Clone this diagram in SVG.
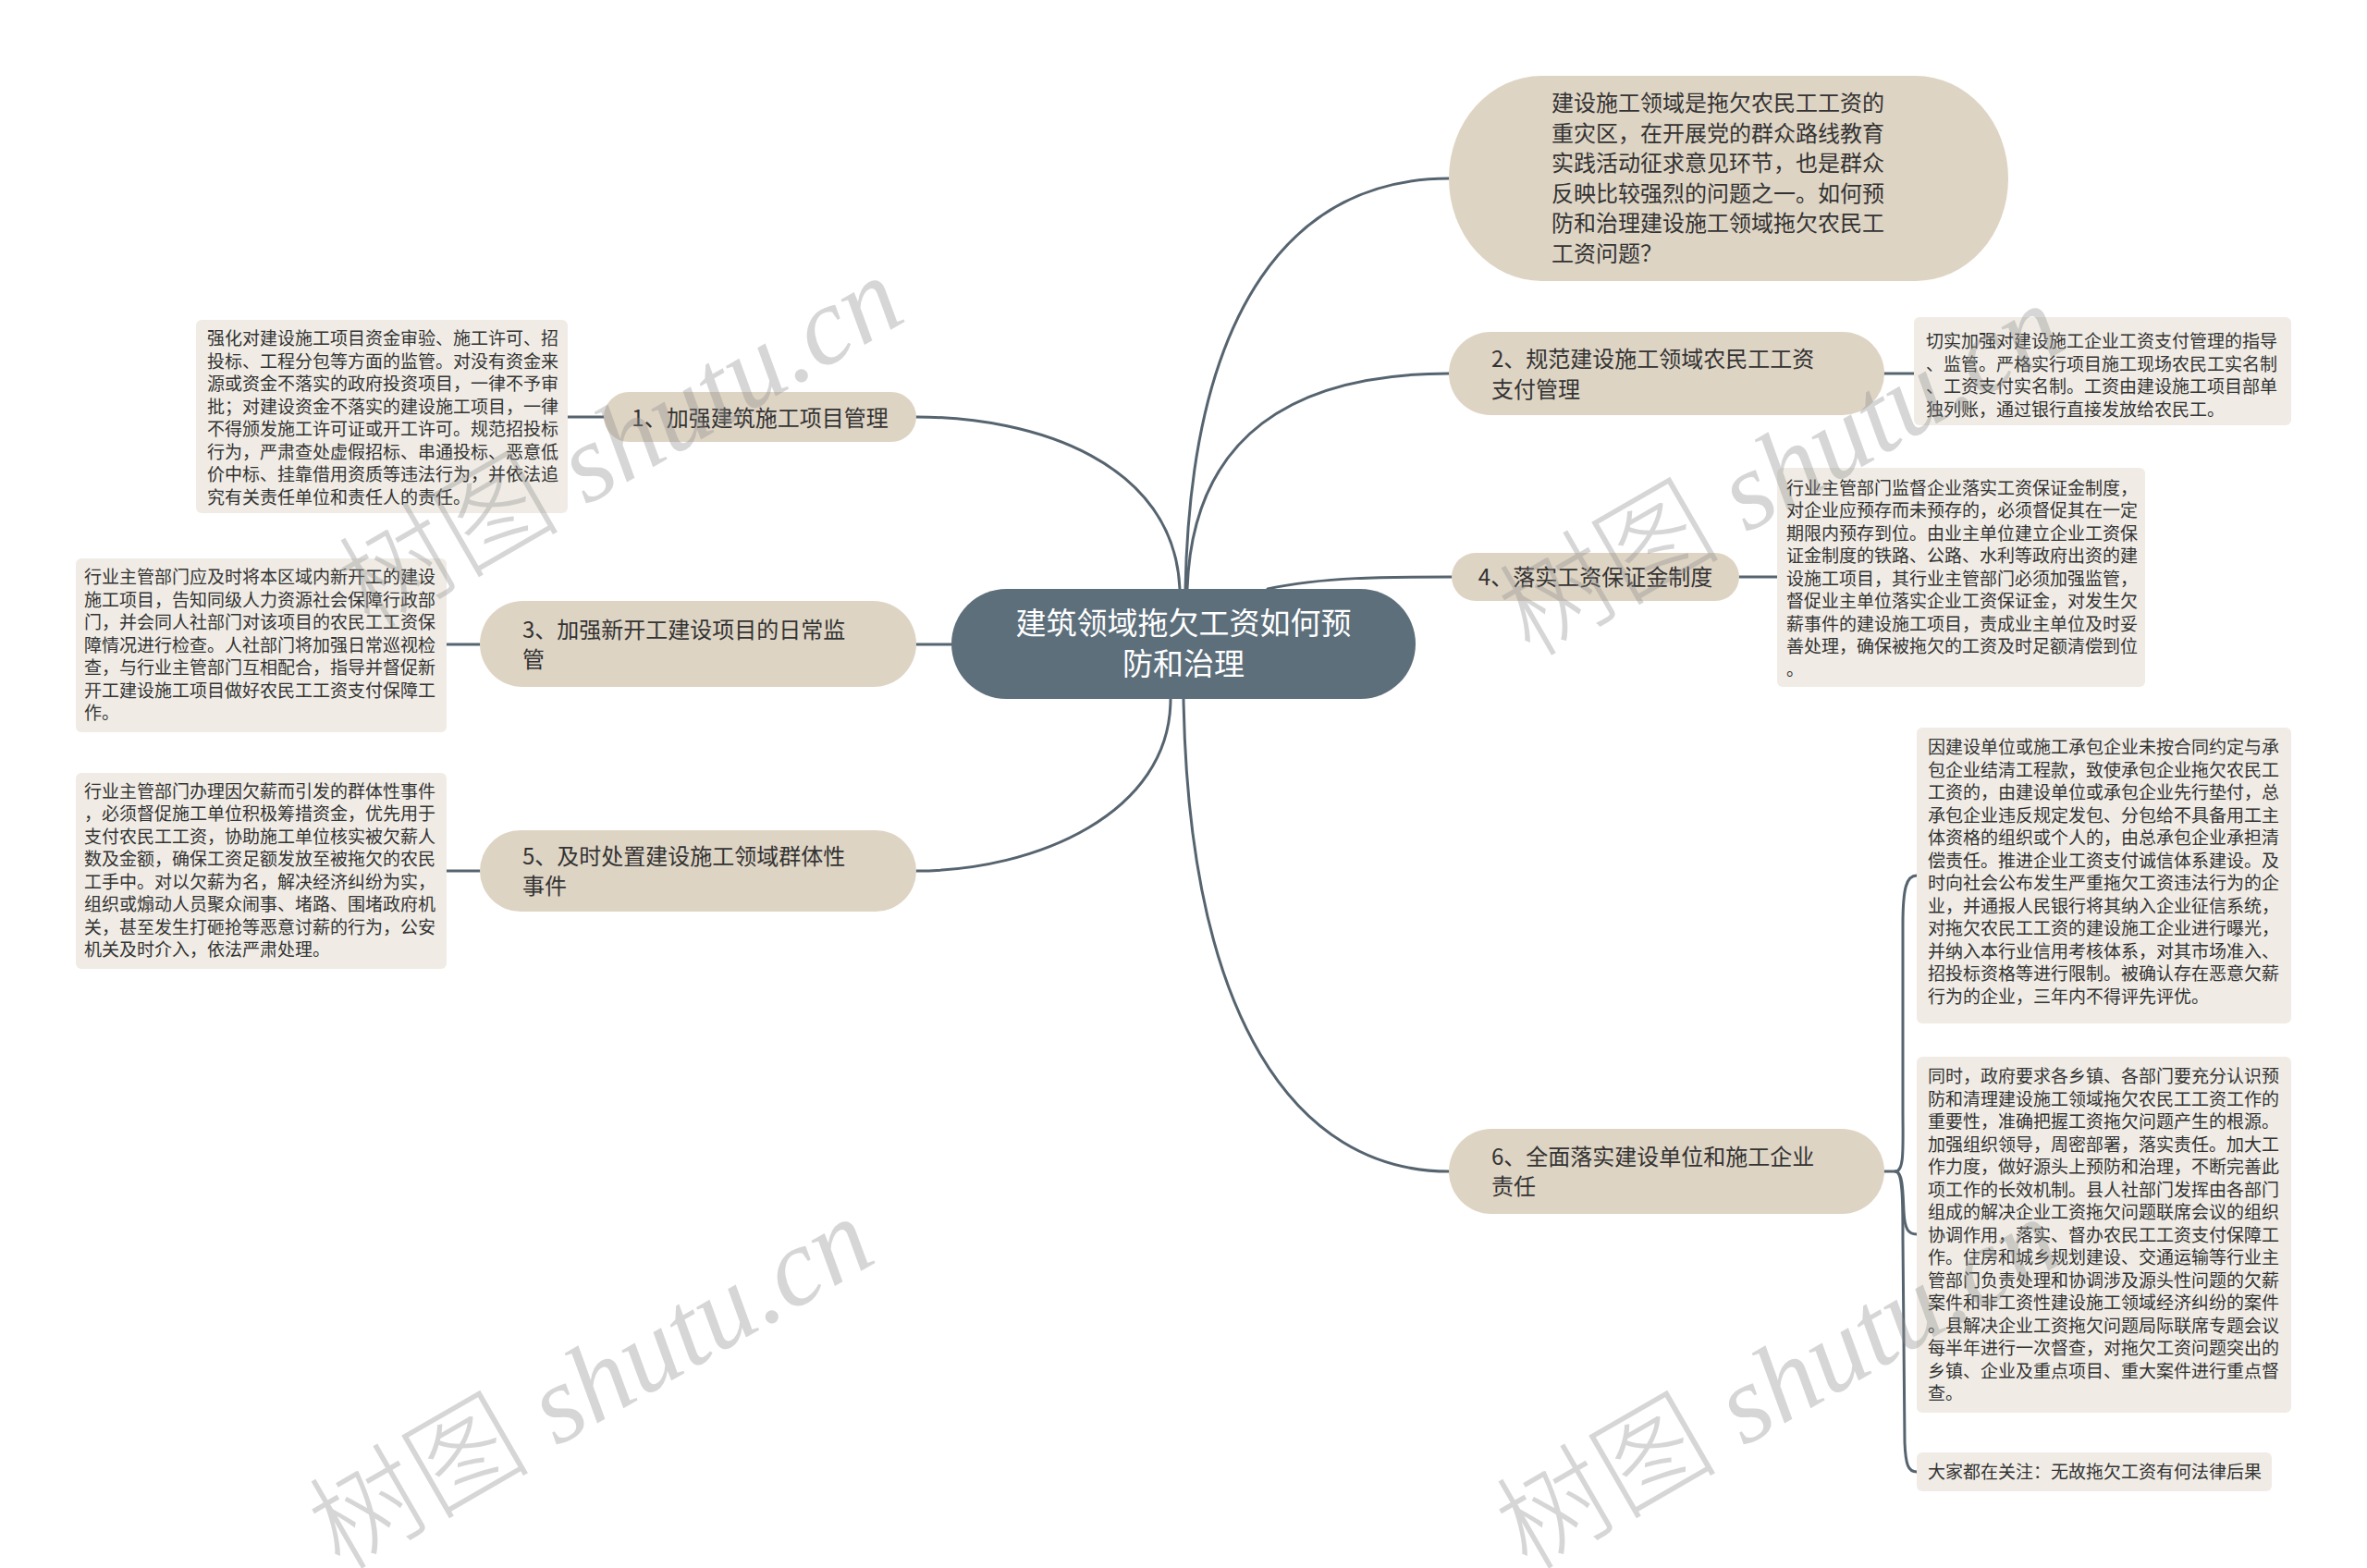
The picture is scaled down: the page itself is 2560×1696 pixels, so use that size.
<svg xmlns="http://www.w3.org/2000/svg" width="2560" height="1696" viewBox="0 0 2560 1696">
<style>
.bg{fill:#ffffff}
.node{fill:#ded4c4}
.detail{fill:#f0ece5}
.root{fill:#5d6f7b}
.line{fill:none;stroke:#56646f;stroke-width:3;stroke-linecap:round}
.t{font-family:"Noto Sans CJK SC","Noto Sans",sans-serif;fill:#333333}
.tn{font-size:24px}
.td{font-size:19px}
.tr{font-family:"Noto Sans CJK SC","Noto Sans",sans-serif;font-size:33px;fill:#ffffff;text-anchor:middle}
.wm{font-size:120px;fill:#8c8c8c;fill-opacity:0.36}
.wmc{font-family:"Noto Sans CJK SC",sans-serif;font-weight:300}
.wml{font-family:"Liberation Serif",serif;font-style:italic}
</style>
<rect class="bg" x="0" y="0" width="2560" height="1696"/>

<g id="connectors">
  <path class="line" d="M1282,637 C1288,330 1400,193 1567,193"/>
  <path class="line" d="M1284,637 C1290,470 1400,404 1567,404"/>
  <path class="line" d="M1371,637 C1430,624 1500,624 1570,624"/>
  <path class="line" d="M1276,637 C1270,500 1120,451 991,451"/>
  <path class="line" d="M1029,697 L991,697"/>
  <path class="line" d="M1266,756 C1266,880 1120,942 991,942"/>
  <path class="line" d="M1280,756 C1286,1100 1400,1267 1567,1267"/>
  <path class="line" d="M653,451 L614,451"/>
  <path class="line" d="M519,697 L483,697"/>
  <path class="line" d="M519,942 L483,942"/>
  <path class="line" d="M2038,404 L2070,404"/>
  <path class="line" d="M1881,624 L1922,624"/>
  <path class="line" d="M2038,1267 L2050,1267 C2060,1267 2058,1240 2058,1200 L2058,1000 C2058,960 2062,947 2073,947"/>
  <path class="line" d="M2050,1267 C2058,1267 2058,1290 2059,1310 C2060,1330 2064,1335 2073,1335"/>
  <path class="line" d="M2050,1267 C2058,1267 2058,1300 2058,1340 L2060,1560 C2061,1585 2064,1592 2073,1592"/>
</g>

<g id="root">
  <rect class="root" x="1029" y="637" width="502" height="119" rx="59.5"/>
  <text class="tr" x="1280" y="686">建筑领域拖欠工资如何预</text>
  <text class="tr" x="1280" y="730">防和治理</text>
</g>

<g id="intro">
  <rect class="node" x="1567" y="82" width="605" height="222" rx="100" ry="111"/>
  <g class="t tn">
    <text x="1678" y="120">建设施工领域是拖欠农民工工资的</text>
    <text x="1678" y="152.5">重灾区，在开展党的群众路线教育</text>
    <text x="1678" y="185">实践活动征求意见环节，也是群众</text>
    <text x="1678" y="217.5">反映比较强烈的问题之一。如何预</text>
    <text x="1678" y="250">防和治理建设施工领域拖欠农民工</text>
    <text x="1678" y="282.5">工资问题？</text>
  </g>
</g>

<g id="node1">
  <rect class="node" x="653" y="424" width="338" height="54" rx="27"/>
  <text class="t tn" x="822" y="461" text-anchor="middle">1、加强建筑施工项目管理</text>
</g>
<g id="detail1">
  <rect class="detail" x="212" y="346" width="402" height="209" rx="6"/>
  <g class="t td">
    <text x="224" y="373">强化对建设施工项目资金审验、施工许可、招</text>
    <text x="224" y="397.5">投标、工程分包等方面的监管。对没有资金来</text>
    <text x="224" y="422">源或资金不落实的政府投资项目，一律不予审</text>
    <text x="224" y="446.5">批；对建设资金不落实的建设施工项目，一律</text>
    <text x="224" y="471">不得颁发施工许可证或开工许可。规范招投标</text>
    <text x="224" y="495.5">行为，严肃查处虚假招标、串通投标、恶意低</text>
    <text x="224" y="520">价中标、挂靠借用资质等违法行为，并依法追</text>
    <text x="224" y="544.5">究有关责任单位和责任人的责任。</text>
  </g>
</g>

<g id="node3">
  <rect class="node" x="519" y="650" width="472" height="93" rx="46.5"/>
  <g class="t tn">
    <text x="565" y="690">3、加强新开工建设项目的日常监</text>
    <text x="565" y="722">管</text>
  </g>
</g>
<g id="detail3">
  <rect class="detail" x="82" y="604" width="401" height="188" rx="6"/>
  <g class="t td">
    <text x="91" y="631">行业主管部门应及时将本区域内新开工的建设</text>
    <text x="91" y="655.5">施工项目，告知同级人力资源社会保障行政部</text>
    <text x="91" y="680">门，并会同人社部门对该项目的农民工工资保</text>
    <text x="91" y="704.5">障情况进行检查。人社部门将加强日常巡视检</text>
    <text x="91" y="729">查，与行业主管部门互相配合，指导并督促新</text>
    <text x="91" y="753.5">开工建设施工项目做好农民工工资支付保障工</text>
    <text x="91" y="778">作。</text>
  </g>
</g>

<g id="node5">
  <rect class="node" x="519" y="898" width="472" height="88" rx="44"/>
  <g class="t tn">
    <text x="565" y="935">5、及时处置建设施工领域群体性</text>
    <text x="565" y="967">事件</text>
  </g>
</g>
<g id="detail5">
  <rect class="detail" x="82" y="836" width="401" height="212" rx="6"/>
  <g class="t td">
    <text x="91" y="862.5">行业主管部门办理因欠薪而引发的群体性事件</text>
    <text x="91" y="887">，必须督促施工单位积极筹措资金，优先用于</text>
    <text x="91" y="911.5">支付农民工工资，协助施工单位核实被欠薪人</text>
    <text x="91" y="936">数及金额，确保工资足额发放至被拖欠的农民</text>
    <text x="91" y="960.5">工手中。对以欠薪为名，解决经济纠纷为实，</text>
    <text x="91" y="985">组织或煽动人员聚众闹事、堵路、围堵政府机</text>
    <text x="91" y="1009.5">关，甚至发生打砸抢等恶意讨薪的行为，公安</text>
    <text x="91" y="1034">机关及时介入，依法严肃处理。</text>
  </g>
</g>

<g id="node2">
  <rect class="node" x="1567" y="359" width="471" height="90" rx="45"/>
  <g class="t tn">
    <text x="1613" y="397">2、规范建设施工领域农民工工资</text>
    <text x="1613" y="430">支付管理</text>
  </g>
</g>
<g id="detail2">
  <rect class="detail" x="2070" y="343" width="408" height="117" rx="6"/>
  <g class="t td">
    <text x="2083" y="376">切实加强对建设施工企业工资支付管理的指导</text>
    <text x="2083" y="400.5">、监管。严格实行项目施工现场农民工实名制</text>
    <text x="2083" y="425">、工资支付实名制。工资由建设施工项目部单</text>
    <text x="2083" y="449.5">独列账，通过银行直接发放给农民工。</text>
  </g>
</g>

<g id="node4">
  <rect class="node" x="1570" y="598" width="311" height="52" rx="26"/>
  <text class="t tn" x="1725.5" y="633" text-anchor="middle">4、落实工资保证金制度</text>
</g>
<g id="detail4">
  <rect class="detail" x="1922" y="506" width="398" height="237" rx="6"/>
  <g class="t td">
    <text x="1932" y="534.5">行业主管部门监督企业落实工资保证金制度，</text>
    <text x="1932" y="559">对企业应预存而未预存的，必须督促其在一定</text>
    <text x="1932" y="583.5">期限内预存到位。由业主单位建立企业工资保</text>
    <text x="1932" y="608">证金制度的铁路、公路、水利等政府出资的建</text>
    <text x="1932" y="632.5">设施工项目，其行业主管部门必须加强监管，</text>
    <text x="1932" y="657">督促业主单位落实企业工资保证金，对发生欠</text>
    <text x="1932" y="681.5">薪事件的建设施工项目，责成业主单位及时妥</text>
    <text x="1932" y="706">善处理，确保被拖欠的工资及时足额清偿到位</text>
    <text x="1932" y="730.5">。</text>
  </g>
</g>

<g id="node6">
  <rect class="node" x="1567" y="1221" width="471" height="92" rx="46"/>
  <g class="t tn">
    <text x="1613" y="1260">6、全面落实建设单位和施工企业</text>
    <text x="1613" y="1292">责任</text>
  </g>
</g>
<g id="detail6a">
  <rect class="detail" x="2073" y="787" width="405" height="320" rx="6"/>
  <g class="t td">
    <text x="2085" y="815">因建设单位或施工承包企业未按合同约定与承</text>
    <text x="2085" y="839.5">包企业结清工程款，致使承包企业拖欠农民工</text>
    <text x="2085" y="864">工资的，由建设单位或承包企业先行垫付，总</text>
    <text x="2085" y="888.5">承包企业违反规定发包、分包给不具备用工主</text>
    <text x="2085" y="913">体资格的组织或个人的，由总承包企业承担清</text>
    <text x="2085" y="937.5">偿责任。推进企业工资支付诚信体系建设。及</text>
    <text x="2085" y="962">时向社会公布发生严重拖欠工资违法行为的企</text>
    <text x="2085" y="986.5">业，并通报人民银行将其纳入企业征信系统，</text>
    <text x="2085" y="1011">对拖欠农民工工资的建设施工企业进行曝光，</text>
    <text x="2085" y="1035.5">并纳入本行业信用考核体系，对其市场准入、</text>
    <text x="2085" y="1060">招投标资格等进行限制。被确认存在恶意欠薪</text>
    <text x="2085" y="1084.5">行为的企业，三年内不得评先评优。</text>
  </g>
</g>
<g id="detail6b">
  <rect class="detail" x="2073" y="1143" width="405" height="385" rx="6"/>
  <g class="t td">
    <text x="2085" y="1171">同时，政府要求各乡镇、各部门要充分认识预</text>
    <text x="2085" y="1195.5">防和清理建设施工领域拖欠农民工工资工作的</text>
    <text x="2085" y="1220">重要性，准确把握工资拖欠问题产生的根源。</text>
    <text x="2085" y="1244.5">加强组织领导，周密部署，落实责任。加大工</text>
    <text x="2085" y="1269">作力度，做好源头上预防和治理，不断完善此</text>
    <text x="2085" y="1293.5">项工作的长效机制。县人社部门发挥由各部门</text>
    <text x="2085" y="1318">组成的解决企业工资拖欠问题联席会议的组织</text>
    <text x="2085" y="1342.5">协调作用，落实、督办农民工工资支付保障工</text>
    <text x="2085" y="1367">作。住房和城乡规划建设、交通运输等行业主</text>
    <text x="2085" y="1391.5">管部门负责处理和协调涉及源头性问题的欠薪</text>
    <text x="2085" y="1416">案件和非工资性建设施工领域经济纠纷的案件</text>
    <text x="2085" y="1440.5">。县解决企业工资拖欠问题局际联席专题会议</text>
    <text x="2085" y="1465">每半年进行一次督查，对拖欠工资问题突出的</text>
    <text x="2085" y="1489.5">乡镇、企业及重点项目、重大案件进行重点督</text>
    <text x="2085" y="1514">查。</text>
  </g>
</g>
<g id="detail6c">
  <rect class="detail" x="2073" y="1571" width="384" height="42" rx="6"/>
  <text class="t td" x="2085" y="1599">大家都在关注：无故拖欠工资有何法律后果</text>
</g>

<g id="watermarks" class="wm">
  <text transform="translate(400,682) rotate(-30)"><tspan class="wmc">树图</tspan><tspan class="wml"> shutu.cn</tspan></text>
  <text transform="translate(1655,712) rotate(-30)"><tspan class="wmc">树图</tspan><tspan class="wml"> shutu.cn</tspan></text>
  <text transform="translate(368,1700) rotate(-30)"><tspan class="wmc">树图</tspan><tspan class="wml"> shutu.cn</tspan></text>
  <text transform="translate(1652,1700) rotate(-30)"><tspan class="wmc">树图</tspan><tspan class="wml"> shutu.cn</tspan></text>
</g>
</svg>
